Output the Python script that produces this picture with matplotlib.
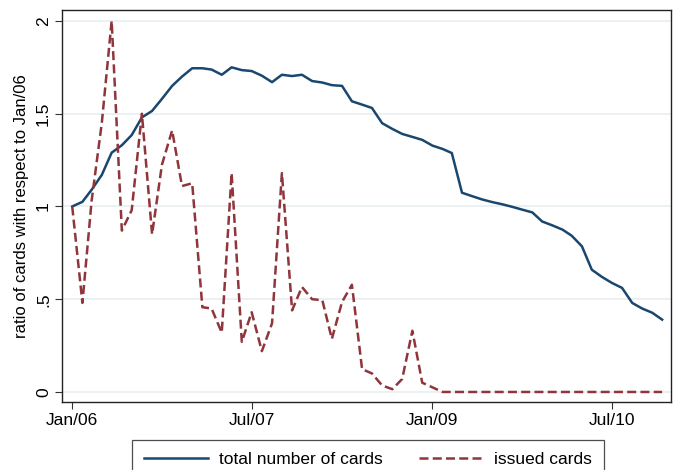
# Ratio of cards relative to Jan/06: total number of cards vs issued cards

import numpy as np
import pandas as pd
import matplotlib
matplotlib.use('Agg')
import matplotlib.pyplot as plt
import matplotlib.dates as mdates

plt.rcParams['font.family'] = ['Liberation Sans', 'DejaVu Sans']

# Monthly observations, Jan/06 to Dec/10
months = pd.date_range('2006-01-01', periods = 60, freq = 'MS')

total_cards = [1.00, 1.025, 1.09, 1.17, 1.29, 1.33, 1.385, 1.48, 1.515, 1.58,
               1.65, 1.70, 1.745, 1.745, 1.738, 1.71, 1.75, 1.735, 1.73, 1.705,
               1.67, 1.71, 1.703, 1.71, 1.676, 1.668, 1.654, 1.65, 1.567, 1.549,
               1.531, 1.449, 1.418, 1.391, 1.375, 1.359, 1.328, 1.31, 1.288, 1.074,
               1.056, 1.038, 1.024, 1.012, 0.998, 0.983, 0.968, 0.919, 0.898, 0.875,
               0.842, 0.785, 0.659, 0.62, 0.588, 0.561, 0.48, 0.45, 0.427, 0.39]

issued_cards = [1.00, 0.48, 1.03, 1.45, 2.00, 0.87, 0.98, 1.50, 0.85, 1.225,
                1.41, 1.11, 1.125, 0.457, 0.45, 0.32, 1.18, 0.27, 0.43, 0.22,
                0.37, 1.18, 0.44, 0.566, 0.50, 0.495, 0.286, 0.485, 0.578, 0.123,
                0.10, 0.035, 0.015, 0.07, 0.33, 0.05, 0.025, 0.0, 0.0, 0.0,
                0.0, 0.0, 0.0, 0.0, 0.0, 0.0, 0.0, 0.0, 0.0, 0.0,
                0.0, 0.0, 0.0, 0.0, 0.0, 0.0, 0.0, 0.0, 0.0, 0.0]

tick_dates = ['2006-01-01', '2007-07-01', '2009-01-01', '2010-07-01']
tick_labels = ['Jan/06', 'Jul/07', 'Jan/09', 'Jul/10']
y_ticks = [0, 0.5, 1, 1.5, 2]
y_labels = ['0', '.5', '1', '1.5', '2']

fig = plt.figure(figsize = (6.75, 4.70), dpi = 100)
ax = fig.add_axes([0.0919, 0.1447, 0.9022, 0.834])

ax.plot(months, total_cards, color = '#1a476f', lw = 1.8, label = 'total number of cards')
ax.plot(months, issued_cards, color = '#90353b', lw = 1.8, dashes = (3.6, 1.7),
        label = 'issued cards')

ax.set_xlim(pd.Timestamp('2005-12-01'), pd.Timestamp('2010-12-28'))
ax.set_ylim(-0.054, 2.059)

ax.set_xticks([pd.Timestamp(d) for d in tick_dates])
ax.set_xticklabels(tick_labels, fontsize = 12.5)
ax.set_yticks(y_ticks)
ax.set_yticklabels(y_labels, fontsize = 12.5, rotation = 90, va = 'center')
ax.tick_params(direction = 'out', length = 5, width = 0.8, color = '#333333', pad = 3)

ax.grid(axis = 'y', color = '#e8eff1', lw = 1.2)
ax.set_axisbelow(True)
for s in ax.spines.values():
    s.set_color('#222222')
    s.set_linewidth(1.0)

ax.set_ylabel('ratio of cards with respect to Jan/06', fontsize = 12, labelpad = 5)

leg = fig.legend(loc = 'upper center', bbox_to_anchor = (0.545, 0.064), ncol = 2,
                 fontsize = 12.5, frameon = True, fancybox = False, edgecolor = '#222222',
                 handlelength = 3.7, handletextpad = 0.6, columnspacing = 2.1,
                 borderpad = 0.7, borderaxespad = 0)
leg.get_frame().set_linewidth(0.9)

fig.savefig('out.png', dpi = 100)
